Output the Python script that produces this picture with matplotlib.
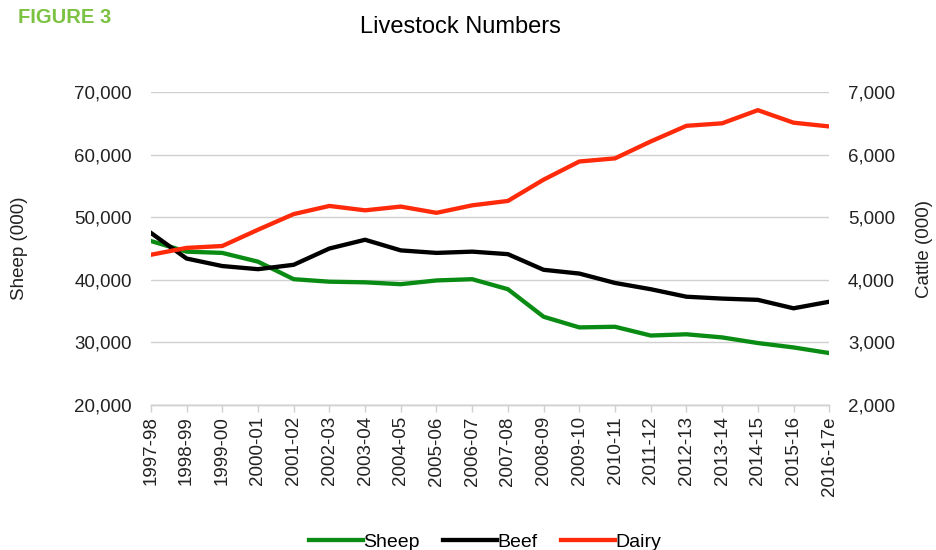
"""Livestock numbers, 1997-98 to 2016-17e: sheep (left axis) and cattle (right axis)."""

import matplotlib

matplotlib.use("Agg")
import matplotlib.pyplot as plt
from matplotlib.ticker import FuncFormatter

plt.rcParams["font.family"] = ["Liberation Sans", "DejaVu Sans"]

SEASONS = [
    "1997-98", "1998-99", "1999-00", "2000-01", "2001-02", "2002-03",
    "2003-04", "2004-05", "2005-06", "2006-07", "2007-08", "2008-09",
    "2009-10", "2010-11", "2011-12", "2012-13", "2013-14", "2014-15",
    "2015-16", "2016-17e",
]
# thousands of head
SHEEP = [46200, 44500, 44300, 42900, 40100, 39700, 39600, 39300, 39900, 40100,
         38500, 34100, 32400, 32500, 31100, 31300, 30800, 29900, 29200, 28300]
BEEF = [4750, 4340, 4220, 4170, 4240, 4500, 4640, 4470, 4430, 4450,
        4410, 4160, 4100, 3950, 3850, 3730, 3700, 3680, 3545, 3650]
DAIRY = [4400, 4510, 4540, 4800, 5050, 5180, 5110, 5170, 5070, 5190,
         5260, 5600, 5890, 5940, 6210, 6460, 6500, 6710, 6510, 6450]

GREEN = "#0a8c14"
RED = "#ff2a0a"
GRID = "#d0d0d0"
TEXT = "#222222"
FS = 13.5


def thousands(v, _pos):
    return f"{v:,.0f}"


def main() -> None:
    fig = plt.figure(figsize=(9.37, 5.5), dpi=100)
    ax = fig.add_axes((0.161, 0.2636, 0.724, 0.5691))
    ax2 = ax.twinx()

    x = range(len(SEASONS))
    l1, = ax.plot(x, SHEEP, color=GREEN, lw=3.1, label="Sheep", zorder=3)
    l2, = ax2.plot(x, BEEF, color="black", lw=3.1, label="Beef", zorder=3)
    l3, = ax2.plot(x, DAIRY, color=RED, lw=3.1, label="Dairy", zorder=3)

    ax.set_xlim(0, len(SEASONS) - 1)
    ax.set_ylim(20000, 70000)
    ax2.set_ylim(2000, 7000)
    ax.set_yticks(range(20000, 70001, 10000))
    ax2.set_yticks(range(2000, 7001, 1000))
    ax.yaxis.set_major_formatter(FuncFormatter(thousands))
    ax2.yaxis.set_major_formatter(FuncFormatter(thousands))

    ax.set_xticks(list(x))
    ax.set_xticklabels(SEASONS, rotation=90, fontsize=FS, color=TEXT)
    ax.tick_params(axis="x", length=5, color=GRID, width=1, pad=3)
    ax.tick_params(axis="y", length=0, labelsize=FS, labelcolor=TEXT, pad=13.5)
    ax2.tick_params(axis="y", length=0, labelsize=FS, labelcolor=TEXT, pad=13.5)

    ax.grid(axis="y", color=GRID, lw=1)
    ax.set_axisbelow(True)
    for a in (ax, ax2):
        for side in ("left", "right", "top"):
            a.spines[side].set_visible(False)
        a.spines["bottom"].set_color(GRID)
        a.spines["bottom"].set_linewidth(1)

    fig.text(0.021, 0.548, "Sheep (000)", rotation=90, ha="center", va="center",
             fontsize=FS, color=TEXT)
    fig.text(0.987, 0.548, "Cattle (000)", rotation=90, ha="center", va="center",
             fontsize=FS, color=TEXT)

    fig.text(0.491, 0.951, "Livestock Numbers", ha="center", va="center",
             fontsize=17, color="black")
    fig.text(0.019, 0.969, "FIGURE 3", ha="left", va="center", fontsize=14.5,
             fontweight="bold", color="#7cc242")

    fig.legend(handles=[l1, l2, l3], loc="center", bbox_to_anchor=(0.518, 0.014),
               ncol=3, frameon=False, fontsize=14, handlelength=2.75,
               handletextpad=0.05, columnspacing=1.2)

    fig.savefig("out.png", dpi=100)
    plt.close(fig)


if __name__ == "__main__":
    main()
